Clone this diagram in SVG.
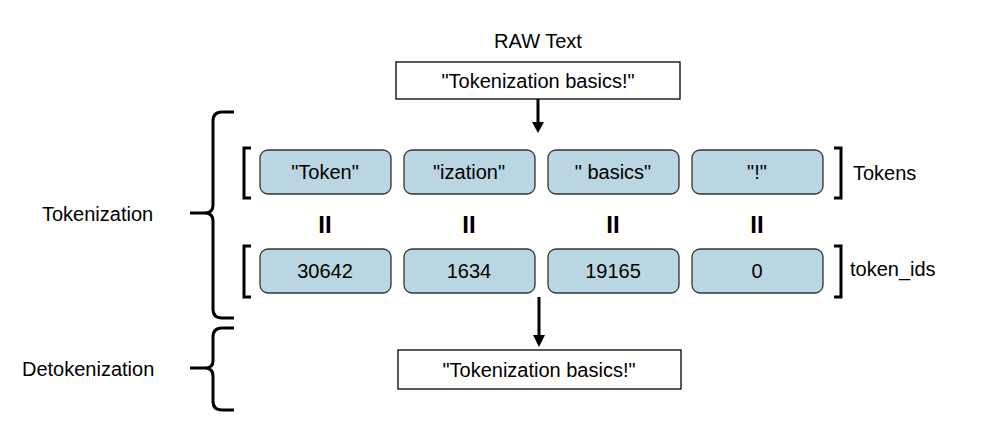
<svg xmlns="http://www.w3.org/2000/svg" width="992" height="432" viewBox="0 0 992 432">
<style>
text{font-family:"Liberation Sans",Arial,sans-serif;font-size:20px;fill:#000}
.c{text-anchor:middle}
.tok{fill:#b9d6e2;stroke:#333;stroke-width:1.3}
.box{fill:#fff;stroke:#000;stroke-width:1.3}
.br{fill:none;stroke:#000;stroke-width:3}
.eq{font-weight:bold;font-size:24px}
</style>
<defs><marker id="ah" markerWidth="10" markerHeight="10" refX="5" refY="8" orient="auto" markerUnits="userSpaceOnUse"><path d="M0,0 L10,0 L5,10 Z" transform="rotate(-90 5 5)" fill="#000"/></marker></defs>
<rect width="992" height="432" fill="#fff"/>
<text class="c" x="538" y="48">RAW Text</text>
<g id="raw"><rect class="box" x="396" y="62" width="284" height="37"/><text class="c" x="538" y="88">"Tokenization basics!"</text></g>
<g id="out"><rect class="box" x="398" y="350" width="283" height="39"/><text class="c" x="539" y="377">"Tokenization basics!"</text></g>
<g id="tokens">
<rect class="tok" x="260" y="150" width="131" height="44" rx="8"/><text class="c" x="325" y="179">"Token"</text>
<rect class="tok" x="404" y="150" width="131" height="44" rx="8"/><text class="c" x="469" y="179">"ization"</text>
<rect class="tok" x="548" y="150" width="131" height="44" rx="8"/><text class="c" x="613" y="179">" basics"</text>
<rect class="tok" x="692" y="150" width="131" height="44" rx="8"/><text class="c" x="757" y="179">"!"</text>
</g>
<g id="ids">
<rect class="tok" x="260" y="249" width="131" height="44" rx="8"/><text class="c" x="325" y="278">30642</text>
<rect class="tok" x="404" y="249" width="131" height="44" rx="8"/><text class="c" x="469" y="278">1634</text>
<rect class="tok" x="548" y="249" width="131" height="44" rx="8"/><text class="c" x="613" y="278">19165</text>
<rect class="tok" x="692" y="249" width="131" height="44" rx="8"/><text class="c" x="757" y="278">0</text>
</g>
<g id="eqs">
<text class="c eq" x="325" y="233">II</text><text class="c eq" x="469" y="233">II</text><text class="c eq" x="613" y="233">II</text><text class="c eq" x="757" y="233">II</text>
</g>
<g id="brackets">
<path class="br" d="M251,148 H244 V198 H251"/>
<path class="br" d="M251,246 H244 V297 H251"/>
<path class="br" d="M834,148 H841 V198 H834"/>
<path class="br" d="M834,246 H841 V297 H834"/>
<path class="br" d="M234,112 H222 Q213,112 213,121 V205 Q213,213 205,213 H190 H205 Q213,213 213,221 V309 Q213,318 222,318 H234"/>
<path class="br" d="M234,328 H222 Q213,328 213,337 V361 Q213,368 205,368 H190 H205 Q213,368 213,376 V401 Q213,410 222,410 H234"/>
</g>
<text x="853" y="180">Tokens</text>
<text x="850" y="276">token_ids</text>
<text x="42" y="221">Tokenization</text>
<text x="22" y="376">Detokenization</text>
<g id="connectors" stroke="#000" stroke-width="3">
<line x1="538" y1="99" x2="538" y2="124"/><path d="M532,122 L544,122 L538,133 Z" fill="#000" stroke="none"/>
<line x1="539" y1="297" x2="539" y2="336"/><path d="M533,335 L545,335 L539,347 Z" fill="#000" stroke="none"/>
</g>
</svg>
